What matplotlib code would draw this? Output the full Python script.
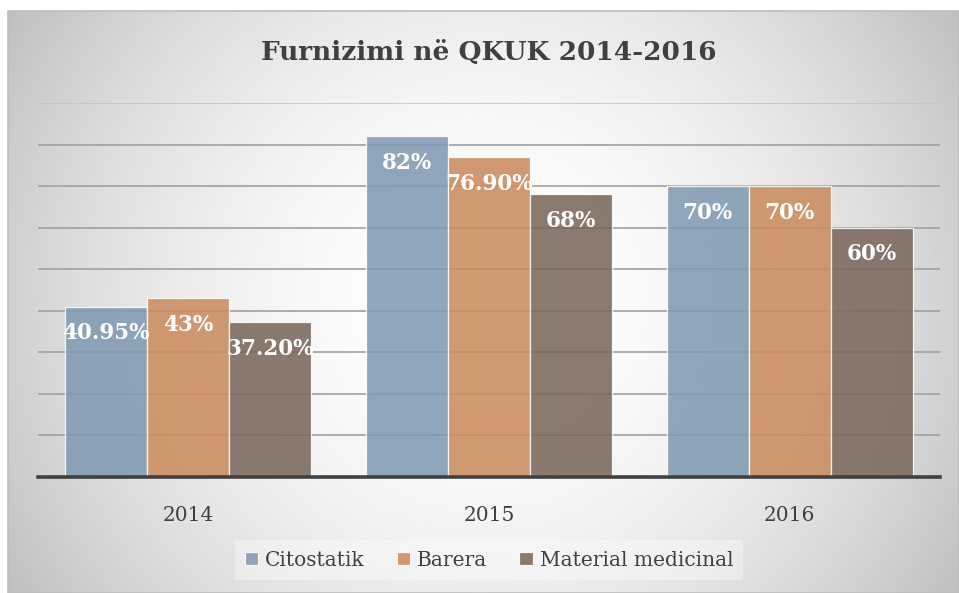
import numpy as np
import matplotlib
matplotlib.use("Agg")
import matplotlib.pyplot as plt
from matplotlib.patches import Rectangle

categories = ["2014", "2015", "2016"]
series_names = ["Citostatik", "Barera", "Material medicinal"]
citostatik = [40.95, 82, 70]
barera = [43, 76.90, 70]
material = [37.20, 68, 60]
labels_cit = ["40.95%", "82%", "70%"]
labels_bar = ["43%", "76.90%", "70%"]
labels_mat = ["37.20%", "68%", "60%"]
title = "Furnizimi në QKUK 2014-2016"

colors = ["#80999F", "#CA8C5F", "#7A685C"]
colors[0] = "#819AB1"

W, H = 959, 593
fig = plt.figure(figsize=(W / 100, H / 100), dpi=100)
fig.patch.set_facecolor("white")

# background radial gradient for chart area
x0, y0 = 8, 11
bg = fig.add_axes([x0 / W, 0, (W - x0) / W, (H - y0) / H])
bg.set_zorder(0)
nx, ny = 400, 250
xx, yy = np.meshgrid(np.linspace(-1, 1, nx), np.linspace(-1, 1, ny))
r = np.sqrt((xx * 1.0) ** 2 + (yy * 0.62) ** 2) / np.sqrt(1 + 0.62 ** 2)
val = 1.0 - 0.25 * np.clip(r / 1.0, 0, 1) ** 1.9
bg.imshow(val, cmap="gray", vmin=0, vmax=1, aspect="auto", extent=[0, 1, 0, 1], interpolation="bilinear")
bg.set_xlim(0, 1)
bg.set_ylim(0, 1)
bg.axis("off")
fig.add_artist(Rectangle((x0 / W, 0), (W - x0) / W - 0.0005, (H - y0) / H, transform=fig.transFigure,
                         fill=False, edgecolor="#BDBDBD", lw=1.2, zorder=1))

left, right = 38 / W, 940 / W
bottom = 1 - 477 / H
top = 1 - 103 / H
ax = fig.add_axes([left, bottom, right - left, top - bottom])
ax.set_zorder(2)
ax.patch.set_alpha(0)

x = np.arange(len(categories))
bw = 82 / 300.7
series = [citostatik, barera, material]
labels = [labels_cit, labels_bar, labels_mat]
for i, (vals, labs) in enumerate(zip(series, labels)):
    xs = x + (i - 1) * bw
    ax.bar(xs, vals, width=bw, color=colors[i], alpha=0.88, edgecolor="white", linewidth=0.9,
           zorder=3, label=series_names[i])
    for xi, v, lab in zip(xs, vals, labs):
        ax.annotate(lab, (xi, v), xytext=(0, -19), textcoords="offset points", ha="center", va="center",
                    color="white", fontsize=15.5, fontweight="bold", family="DejaVu Serif", zorder=5)

ax.set_xlim(-0.5, 2.5)
ax.set_ylim(0, 90)
for g in range(10, 91, 10):
    ax.axhline(g, color="#A0A0A0" if g < 90 else "#C4C4C4", lw=1.2, zorder=1)
ax.axhline(0, color="#404040", lw=2.6, zorder=4, clip_on=False)
for s in ax.spines.values():
    s.set_visible(False)
ax.set_yticks([])
ax.set_xticks(x)
ax.set_xticklabels(categories, family="DejaVu Serif", fontsize=14.5, color="#404040")
ax.tick_params(axis="x", length=0, pad=21)

fig.text(489 / W, 1 - 53 / H, title, ha="center", va="center", fontsize=19, fontweight="bold",
         family="DejaVu Serif", color="#404040")

leg = fig.legend(loc="center", bbox_to_anchor=(489 / W, 1 - 560 / H), ncol=3, frameon=True,
                 prop={"family": "DejaVu Serif", "size": 14.5}, handlelength=0.65, handleheight=0.65,
                 handletextpad=0.35, columnspacing=1.6, borderpad=0.5, fancybox=False)
leg.get_frame().set_facecolor("white")
leg.get_frame().set_alpha(0.35)
leg.get_frame().set_edgecolor("none")
for t in leg.get_texts():
    t.set_color("#404040")

fig.savefig("out.png", dpi=100)
